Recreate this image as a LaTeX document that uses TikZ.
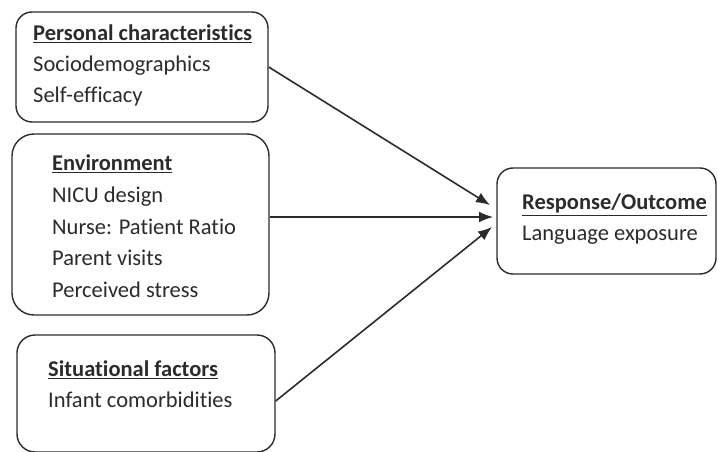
\documentclass[tikz,border=0pt]{standalone}
\usepackage{fontspec}
\setmainfont{Carlito}[Ligatures=NoCommon]
\usepackage{tikz}
\usetikzlibrary{arrows.meta}
\definecolor{ink}{HTML}{2B2B2B}

\begin{document}
\begin{tikzpicture}[x=1pt, y=-1pt, >={Latex[length=14pt, width=11pt]},
    box/.style={draw=ink, line width=1.4pt, rounded corners=16pt, inner sep=0pt},
    lbl/.style={anchor=north west, align=left, inner sep=0pt, text=ink,
      font=\fontsize{22.5}{31}\selectfont}]
  \useasboundingbox (0,0) rectangle (718,452);
  \node[box, minimum width=252pt, minimum height=110pt] (pers) at (142,67) {};
  \node[box, rounded corners=22pt, minimum width=257pt, minimum height=181pt] (env) at (140.5,224.5) {};
  \node[box, rounded corners=18pt, minimum width=258pt, minimum height=117pt] (sit) at (146,393.5) {};
  \node[box, minimum width=219pt, minimum height=106pt] (resp) at (606.5,221) {};
  \node[lbl] (persT) at (33,25) {\underline{\textbf{Personal characteristics}}\\Sociodemographics\\Self-efficacy};
  \node[lbl, font=\fontsize{22.5}{31.6}\selectfont] (envT) at (52,155) {\underline{\textbf{Environment}}\\NICU design\\Nurse: Patient Ratio\\Parent visits\\Perceived stress};
  \node[lbl] (sitT) at (48,361) {\underline{\textbf{Situational factors}}\\Infant comorbidities};
  \node[lbl] (respT) at (522,194) {\underline{\textbf{Response/Outcome}}\\Language exposure};
  \coordinate (in1) at (490,205);
  \coordinate (in2) at (493,217);
  \coordinate (in3) at (492,227);
  \draw[->, ink, line width=1.6pt] (pers.east) -- (in1);
  \draw[->, ink, line width=1.6pt] (env.east |- in2) -- (in2);
  \draw[->, ink, line width=1.6pt] (sit.east |- 0,401) -- (in3);
\end{tikzpicture}
\end{document}
